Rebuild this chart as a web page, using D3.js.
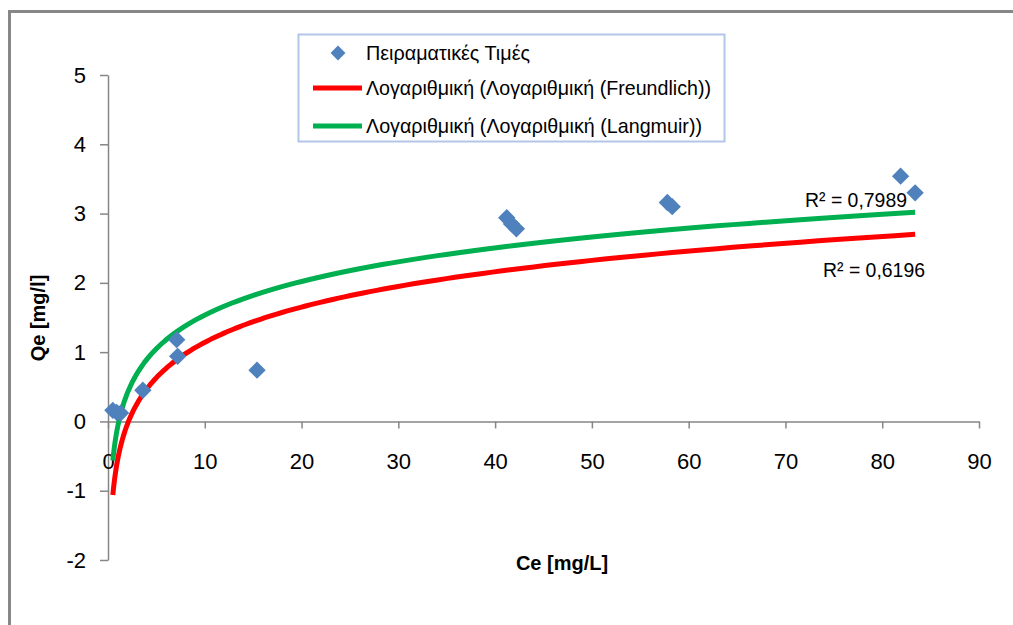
<!DOCTYPE html>
<html>
<head>
<meta charset="utf-8">
<script src="https://cdn.jsdelivr.net/npm/d3@7"></script>
<style>
  body { margin: 0; background: #fff; }
  svg { display: block; font-family: "Liberation Sans", Arial, sans-serif; }
  .axis path, .axis line { stroke: #868686; stroke-width: 1.5; }
  .axis text { font-size: 22px; fill: #000; }
</style>
</head>
<body>
<div id="chart"></div>
<script>
// measured points (Ce, Qe)
var ceValues = [0.5, 0.9, 1.3, 3.6, 7.1, 7.2, 15.4, 41.2, 41.7, 42.2, 57.8, 58.3, 81.9, 83.4];
var qeValues = [0.16, 0.13, 0.12, 0.45, 1.18, 0.94, 0.74, 2.94, 2.85, 2.78, 3.16, 3.10, 3.54, 3.30];

// logarithmic trendlines y = a*ln(x) + b
var trendNames = ["Λογαριθμική (Λογαριθμική (Freundlich))", "Λογαριθμική (Λογαριθμική (Langmuir))"];
var trendA = [0.735, 0.70];
var trendB = [-0.551, -0.077];
var trendColors = ["#ff0000", "#00b050"];
var trendR2 = ["R² = 0,6196", "R² = 0,7989"];

var pointName = "Πειραματικές Τιμές";
var xTicks = [0, 10, 20, 30, 40, 50, 60, 70, 80, 90];
var yTicks = [-2, -1, 0, 1, 2, 3, 4, 5];

var W = 1013, H = 625;

var svg = d3.select("#chart").append("svg")
  .attr("width", W)
  .attr("height", H);

// outer chart border (only top and left visible)
svg.append("path")
  .attr("d", "M9.5,625 L9.5,11.5 L1013,11.5")
  .attr("fill", "none")
  .attr("stroke", "#878787")
  .attr("stroke-width", 3);

var x = d3.scaleLinear().domain([0, 90]).range([108, 979]);
var y = d3.scaleLinear().domain([-2, 5]).range([560, 75]);

var plain = function(d){ return String(d).replace("−", "-"); };

svg.append("g")
  .attr("class", "axis")
  .attr("transform", "translate(" + x(0) + ",0)")
  .call(d3.axisLeft(y).tickValues(yTicks).tickFormat(plain).tickSize(8).tickPadding(14).tickSizeOuter(0));

svg.append("g")
  .attr("class", "axis")
  .attr("transform", "translate(0," + y(0) + ")")
  .call(d3.axisBottom(x).tickValues(xTicks).tickFormat(plain).tickSize(7).tickPadding(25).tickSizeOuter(0));

// axis titles
svg.append("text")
  .attr("x", 562).attr("y", 570)
  .attr("text-anchor", "middle")
  .attr("font-size", 20).attr("font-weight", "bold")
  .text("Ce [mg/L]");

svg.append("text")
  .attr("transform", "translate(45,318) rotate(-90)")
  .attr("text-anchor", "middle")
  .attr("font-size", 20).attr("font-weight", "bold")
  .text("Qe [mg/l]");

// trendlines
var xMin = d3.min(ceValues), xMax = d3.max(ceValues);
var samples = d3.range(0, 201).map(function(i){
  return Math.exp(Math.log(xMin) + (Math.log(xMax) - Math.log(xMin)) * i / 200);
});

trendA.forEach(function(a, k){
  var line = d3.line()
    .x(function(d){ return x(d); })
    .y(function(d){ return y(a * Math.log(d) + trendB[k]); });
  svg.append("path")
    .datum(samples)
    .attr("d", line)
    .attr("fill", "none")
    .attr("stroke", trendColors[k])
    .attr("stroke-width", 5);
});

// R² labels
svg.append("text")
  .attr("x", 823).attr("y", 277)
  .attr("font-size", 20)
  .attr("textLength", 102).attr("lengthAdjust", "spacingAndGlyphs")
  .text(trendR2[0]);
svg.append("text")
  .attr("x", 805).attr("y", 207)
  .attr("font-size", 20)
  .attr("textLength", 102).attr("lengthAdjust", "spacingAndGlyphs")
  .text(trendR2[1]);

// points
var diamond = d3.symbol().type(d3.symbolSquare).size(150);
svg.selectAll(".pt")
  .data(ceValues)
  .enter()
  .append("path")
  .attr("class", "pt")
  .attr("d", diamond)
  .attr("fill", "#4f81bd")
  .attr("transform", function(d, i){
    return "translate(" + x(d) + "," + y(qeValues[i]) + ") rotate(45)";
  });

// legend
var legend = svg.append("g");
legend.append("rect")
  .attr("x", 298.5).attr("y", 34.5)
  .attr("width", 426).attr("height", 107)
  .attr("fill", "#fff")
  .attr("stroke", "#b4c6e7")
  .attr("stroke-width", 2);

legend.append("path")
  .attr("d", d3.symbol().type(d3.symbolSquare).size(110))
  .attr("fill", "#4f81bd")
  .attr("transform", "translate(338,53) rotate(45)");
legend.append("text")
  .attr("x", 366).attr("y", 53).attr("dy", "0.35em")
  .attr("font-size", 21)
  .attr("textLength", 164).attr("lengthAdjust", "spacingAndGlyphs")
  .text(pointName);

var legendY = [88, 126];
var legendW = [345, 336];
trendNames.forEach(function(name, k){
  legend.append("line")
    .attr("x1", 313).attr("x2", 362)
    .attr("y1", legendY[k]).attr("y2", legendY[k])
    .attr("stroke", trendColors[k])
    .attr("stroke-width", 5);
  legend.append("text")
    .attr("x", 366).attr("y", legendY[k]).attr("dy", "0.35em")
    .attr("font-size", 21)
    .attr("textLength", legendW[k]).attr("lengthAdjust", "spacingAndGlyphs")
    .text(name);
});
</script>
</body>
</html>
